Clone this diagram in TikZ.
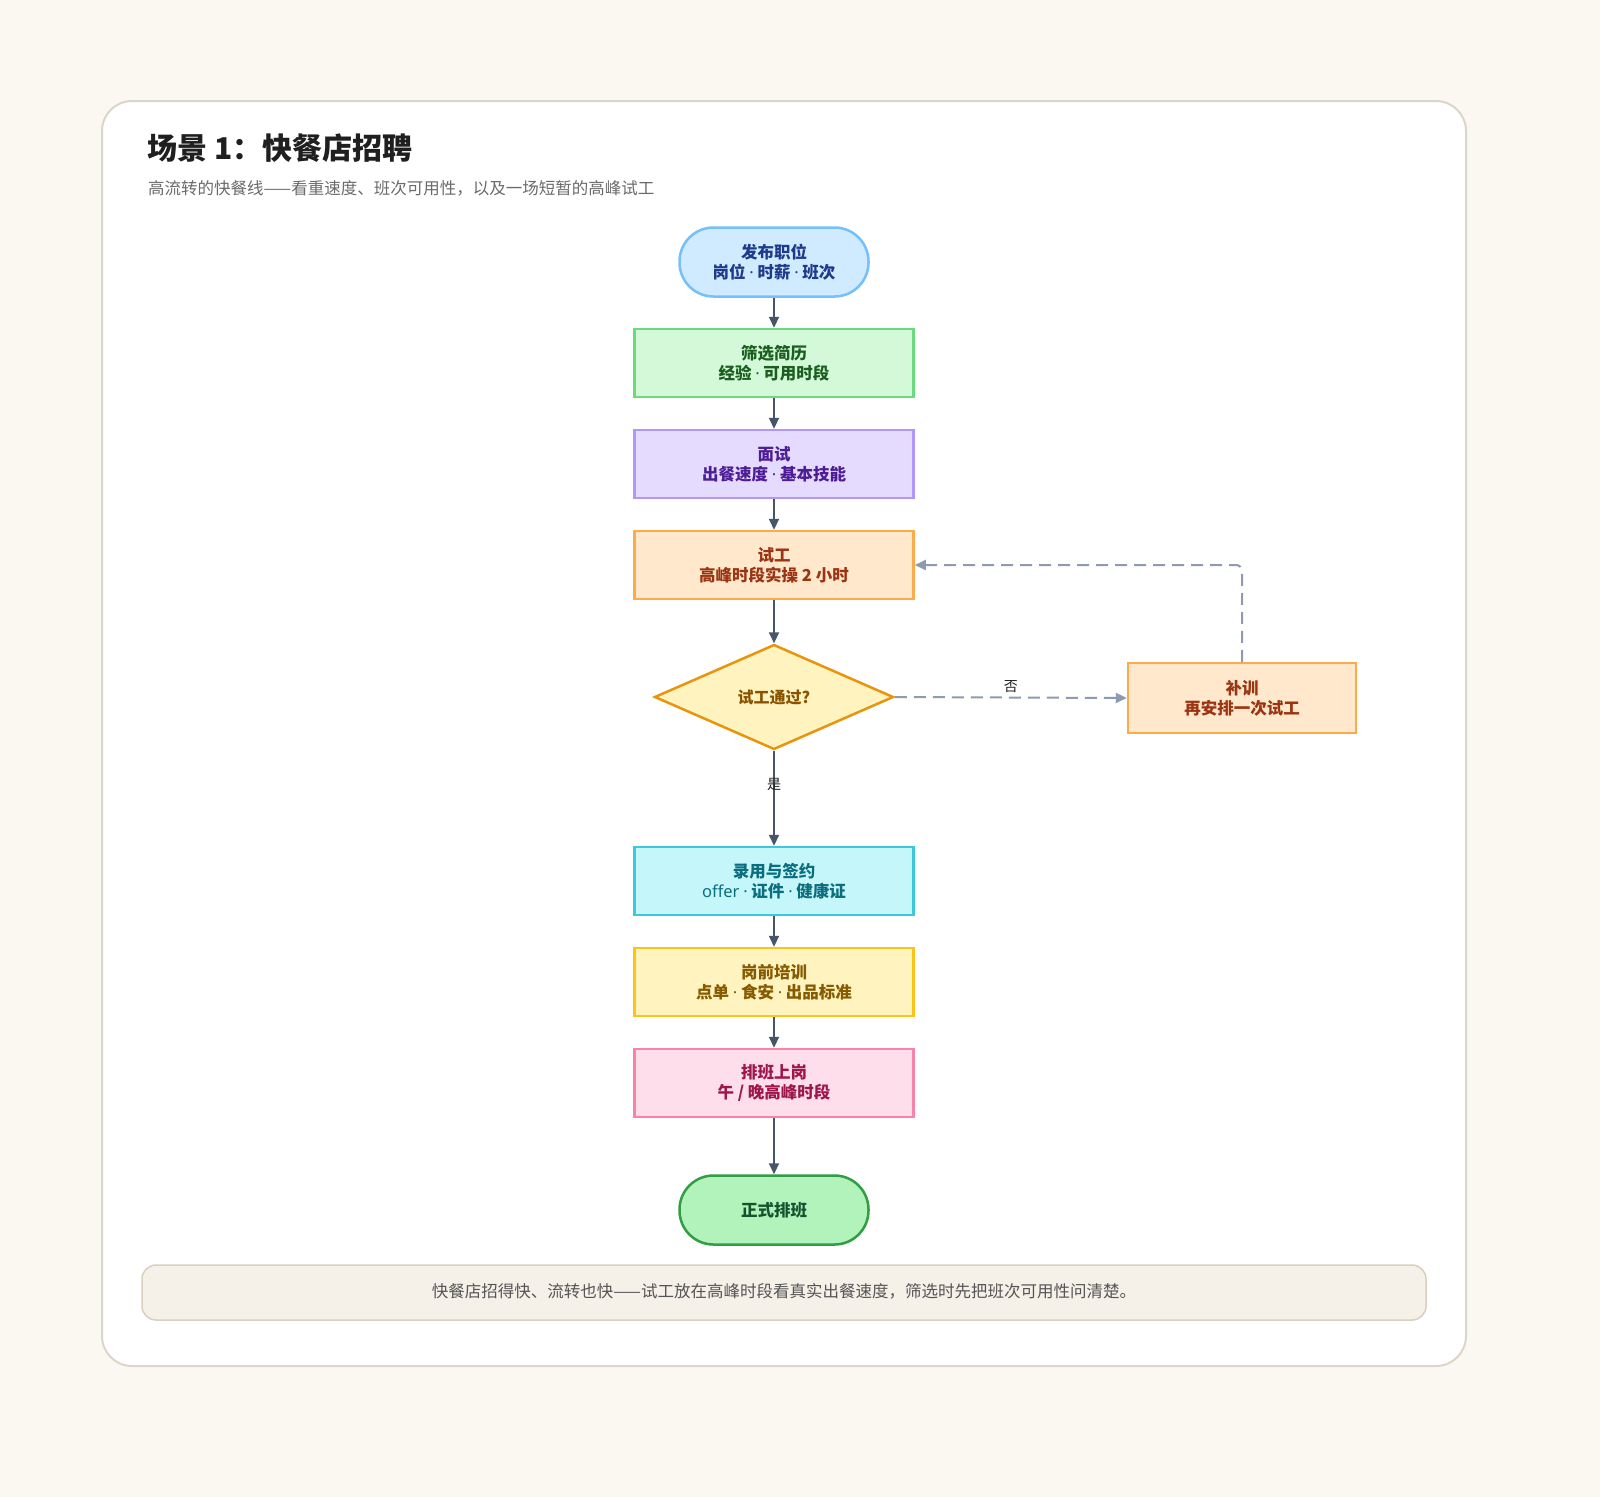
\documentclass[tikz,border=0pt]{standalone}
\usepackage{fontspec}
\setmainfont{Noto Sans CJK SC}
\newfontfamily\latinfont{Noto Sans}
\newcommand{\md}{{\latinfont\mdseries ·}}
\usetikzlibrary{arrows.meta,shapes.geometric}
\definecolor{bgcol}{HTML}{FBF8F1}
\definecolor{cardline}{HTML}{DCD6CA}
\definecolor{titlecol}{HTML}{1F1F1F}
\definecolor{subcol}{HTML}{6B6B6B}
\definecolor{arrowcol}{HTML}{475569}
\definecolor{dashcol}{HTML}{8E9AAF}
\definecolor{bluefill}{HTML}{D0EBFF}\definecolor{blueline}{HTML}{74C0FC}\definecolor{bluetext}{HTML}{1E3A8A}
\definecolor{greenfill}{HTML}{D3F9D8}\definecolor{greenline}{HTML}{69DB7C}\definecolor{greentext}{HTML}{1B5E20}
\definecolor{purpfill}{HTML}{E5DBFF}\definecolor{purpline}{HTML}{B197FC}\definecolor{purptext}{HTML}{4C1D95}
\definecolor{orfill}{HTML}{FFE8CC}\definecolor{orline}{HTML}{FFA94D}\definecolor{ortext}{HTML}{9A3412}
\definecolor{dfill}{HTML}{FFF3BF}\definecolor{dline}{HTML}{E8940C}\definecolor{dtext}{HTML}{8A5300}
\definecolor{cyfill}{HTML}{C5F6FA}\definecolor{cyline}{HTML}{3BC9DB}\definecolor{cytext}{HTML}{0B6E7F}
\definecolor{yfill}{HTML}{FFF3BF}\definecolor{yline}{HTML}{FCC419}\definecolor{ytext}{HTML}{855A00}
\definecolor{pkfill}{HTML}{FFDEEB}\definecolor{pkline}{HTML}{F783AC}\definecolor{pktext}{HTML}{9D174D}
\definecolor{gefill}{HTML}{B2F2BB}\definecolor{geline}{HTML}{2F9E44}\definecolor{getext}{HTML}{14532D}
\definecolor{footfill}{HTML}{F5F0E8}\definecolor{footline}{HTML}{D8D0C0}\definecolor{foottext}{HTML}{555555}
\tikzset{
  nodetxt/.style={align=center, font=\bfseries\fontsize{16.5}{20}\selectfont},
  procbox/.style={nodetxt, rectangle, line width=2.5pt, minimum width=279pt, minimum height=68pt, inner sep=0pt},
  termbox/.style={nodetxt, rectangle, rounded corners=34pt, line width=2.5pt, minimum width=189pt, minimum height=69pt, inner sep=0pt},
  flow/.style={draw=arrowcol, line width=2pt, -{Triangle[length=11pt,width=10pt]}},
  dflow/.style={draw=dashcol, line width=2pt, dash pattern=on 12pt off 7pt, rounded corners=6pt, -{Triangle[length=11pt,width=10pt]}},
  edgelbl/.style={font=\fontsize{14}{16}\selectfont, text=titlecol, inner sep=1pt}
}
\begin{document}
\begin{tikzpicture}[x=1pt,y=-1pt]
\fill[bgcol] (0,0) rectangle (1600,1497);
\useasboundingbox (0,0) rectangle (1600,1497);
\draw[cardline, line width=2pt, fill=white, rounded corners=30pt] (102,101) rectangle (1466,1366);
\node[anchor=west, font=\bfseries\fontsize{30}{36}\selectfont, text=titlecol, inner sep=0pt] (title) at (147,148) {场景 1：快餐店招聘};
\node[anchor=west, font=\fontsize{16.5}{18}\selectfont, text=subcol, inner sep=0pt] (subtitle) at (148,188) {高流转的快餐线——看重速度、班次可用性，以及一场短暂的高峰试工};

\node[termbox, draw=blueline, fill=bluefill, text=bluetext] (post) at (774,262) {发布职位\\岗位 \md{} 时薪 \md{} 班次};
\node[procbox, draw=greenline, fill=greenfill, text=greentext] (screen) at (774,363) {筛选简历\\经验 \md{} 可用时段};
\node[procbox, draw=purpline, fill=purpfill, text=purptext] (interview) at (774,464) {面试\\出餐速度 \md{} 基本技能};
\node[procbox, draw=orline, fill=orfill, text=ortext] (trial) at (774,565) {试工\\高峰时段实操 2 小时};
\node[diamond, aspect=2.28, draw=dline, fill=dfill, line width=2.5pt, minimum width=239pt, minimum height=105pt, inner sep=0pt, text=dtext, font=\bfseries\fontsize{16}{20}\selectfont] (pass) at (774,697) {试工通过?};
\node[procbox, minimum width=228pt, minimum height=70pt, draw=orline, fill=orfill, text=ortext] (retrain) at (1242,698) {补训\\再安排一次试工};
\node[procbox, draw=cyline, fill=cyfill, text=cytext] (offer) at (774,881) {录用与签约\\{\latinfont\mdseries offer} \md{} 证件 \md{} 健康证};
\node[procbox, draw=yline, fill=yfill, text=ytext] (train) at (774,982) {岗前培训\\点单 \md{} 食安 \md{} 出品标准};
\node[procbox, draw=pkline, fill=pkfill, text=pktext] (shift) at (774,1083) {排班上岗\\午 / 晚高峰时段};
\node[termbox, draw=geline, fill=gefill, text=getext] (final) at (774,1210) {正式排班};

\draw[flow] (post) -- (screen);
\draw[flow] (screen) -- (interview);
\draw[flow] (interview) -- (trial);
\draw[flow] (trial) -- (pass);
\draw[flow] (pass) -- node[edgelbl, pos=0.35] (yes) {是} (offer);
\draw[flow] (offer) -- (train);
\draw[flow] (train) -- (shift);
\draw[flow] (shift) -- (final);
\draw[dflow] (pass.east) -- node[edgelbl, above=3pt] (no) {否} (retrain.west);
\draw[dflow] (retrain.north) |- (trial.east);

\draw[footline, line width=1.5pt, fill=footfill, rounded corners=14pt] (142,1265) rectangle (1426,1320);
\node[font=\fontsize{16.5}{18}\selectfont, text=foottext, inner sep=0pt] (foot) at (784,1291) {快餐店招得快、流转也快——试工放在高峰时段看真实出餐速度，筛选时先把班次可用性问清楚。};
\end{tikzpicture}
\end{document}
